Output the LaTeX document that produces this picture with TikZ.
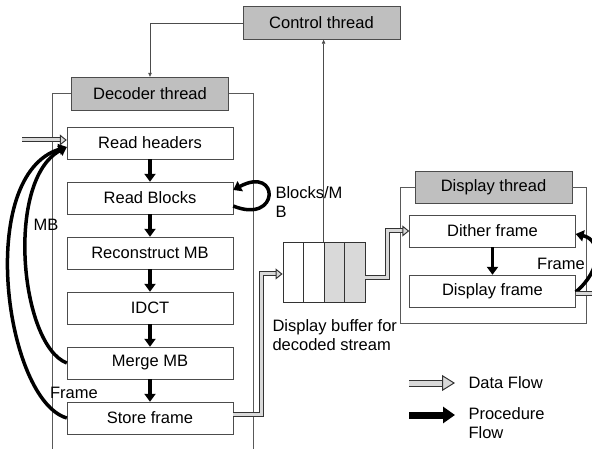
\documentclass[tikz,border=0pt]{standalone}
\usepackage{fontspec}
\setmainfont{Liberation Sans}
\usetikzlibrary{arrows.meta}
\tikzset{
  stepbox/.style={draw=black!70, fill=white, minimum width=166pt, minimum height=32pt, inner sep=0pt},
  threadbox/.style={draw=black!70, fill=gray!50, minimum width=157pt, minimum height=33pt, inner sep=0pt},
  cell/.style={draw=black!80, line width=0.8pt, minimum width=20.5pt, minimum height=60pt, inner sep=0pt},
  frameline/.style={draw=black!65, line width=0.7pt},
  ctrlline/.style={draw=black!70, line width=0.6pt, -{Triangle[length=4pt,width=3.5pt]}},
  proc/.style={line width=3.5pt, -{Triangle[length=8pt,width=11pt]}},
  dataline/.style={draw=black!80, double=gray!30, double distance=3pt, line width=1pt},
  dataflow/.style={dataline, -{Triangle[length=7pt,width=11pt,color=black!80,fill=gray!30,line width=1pt]}},
}
\begin{document}
\begin{tikzpicture}[x=1pt, y=-1pt, font=\fontsize{16.5}{19}\selectfont]
  \useasboundingbox (0,0) rectangle (592,449);
  % threads
  \node[threadbox] (ctl) at (321.5,23) {Control thread};
  \node[threadbox] (dec) at (150,93.5) {Decoder thread};
  \node[threadbox, minimum height=32pt] (dth) at (493.5,187) {Display thread};
  % decoder frame
  \draw[frameline] (dec.west) -- (52,93.5) -- (52,452);
  \draw[frameline] (dec.east) -- (253,93.5) -- (253,452);
  % display frame
  \draw[frameline] (dth.west) -- (400,187) -- (400,323) -- (586,323) -- (586,187) -- (dth.east);
  % decoder steps
  \node[stepbox] (rh) at (150,143) {Read headers};
  \node[stepbox] (rb) at (150,198) {Read Blocks};
  \node[stepbox] (rc) at (150,253) {Reconstruct MB};
  \node[stepbox] (idct) at (150,308) {IDCT};
  \node[stepbox] (mm) at (150,363) {Merge MB};
  \node[stepbox] (sf) at (150,418) {Store frame};
  \draw[proc] (rh) -- (rb);
  \draw[proc] (rb) -- (rc);
  \draw[proc] (rc) -- (idct);
  \draw[proc] (idct) -- (mm);
  \draw[proc] (mm) -- (sf);
  % loops back
  \draw[proc] ([yshift=-8pt]rb.east) .. controls (280,225) and (280,165) .. ([yshift=8pt]rb.east);
  \node[anchor=west, align=left] (lblk) at (272,202) {Blocks/M\\B};
  \draw[proc] (mm.west) .. controls (20,345) and (5,180) .. ([yshift=-4pt]rh.west);
  \draw[proc] (sf.west) .. controls (5,400) and (-25,175) .. ([yshift=-4pt]rh.west);
  \node (lmb) at (46,225) {MB};
  \node (lfr) at (74,393) {Frame};
  % display buffer
  \foreach \i/\f in {1/white,2/white,3/gray!30,4/gray!30}
    \node[cell, fill=\f] (c\i) at ({283+20.5*(\i-0.5)},272) {};
  \node[anchor=west, align=left] (lbuf) at (269,335) {Display buffer for\\decoded stream};
  % display steps
  \node[stepbox] (dit) at (492.5,231) {Dither frame};
  \node[stepbox] (dfr) at (492.5,291) {Display frame};
  \draw[proc] (dit) -- (dfr);
  \draw[proc] ([yshift=-1pt]dfr.east) .. controls (602,270) and (602,240) .. ([yshift=-3pt]dit.east);
  \node (ldf) at (561,264) {Frame};
  % control lines
  \draw[ctrlline] (ctl.west) -| (dec.north);
  \draw[ctrlline] (c3.north west) -- (c3.north west|-ctl.south);
  % data flow
  \coordinate (din) at (22,140);
  \coordinate (dout) at (598,294);
  \draw[dataflow] (din) -- ([yshift=3pt]rh.west);
  \draw[dataflow] ([yshift=4pt]sf.east) -- ++(28,0) |- ([yshift=-2pt]c1.west);
  \draw[dataflow] ([yshift=-6pt]c4.east) -- ++(22,0) |- (dit.west);
  \draw[dataline] ([yshift=-3pt]dfr.east) -- (dout);
  % legend
  \coordinate (ld1) at (409,383);
  \coordinate (ld2) at (455,383);
  \coordinate (lp1) at (409,415);
  \coordinate (lp2) at (455,415);
  \draw[dataline, double distance=5pt, -{Triangle[length=13pt,width=16pt,color=black!80,fill=gray!30,line width=1pt]}] (ld1) -- (ld2);
  \draw[line width=7pt, -{Triangle[length=12pt,width=16pt]}] (lp1) -- (lp2);
  \node[anchor=west] (ldata) at (465,383) {Data Flow};
  \node[anchor=north west, align=left] (lproc) at (465,404) {Procedure\\Flow};
\end{tikzpicture}
\end{document}
